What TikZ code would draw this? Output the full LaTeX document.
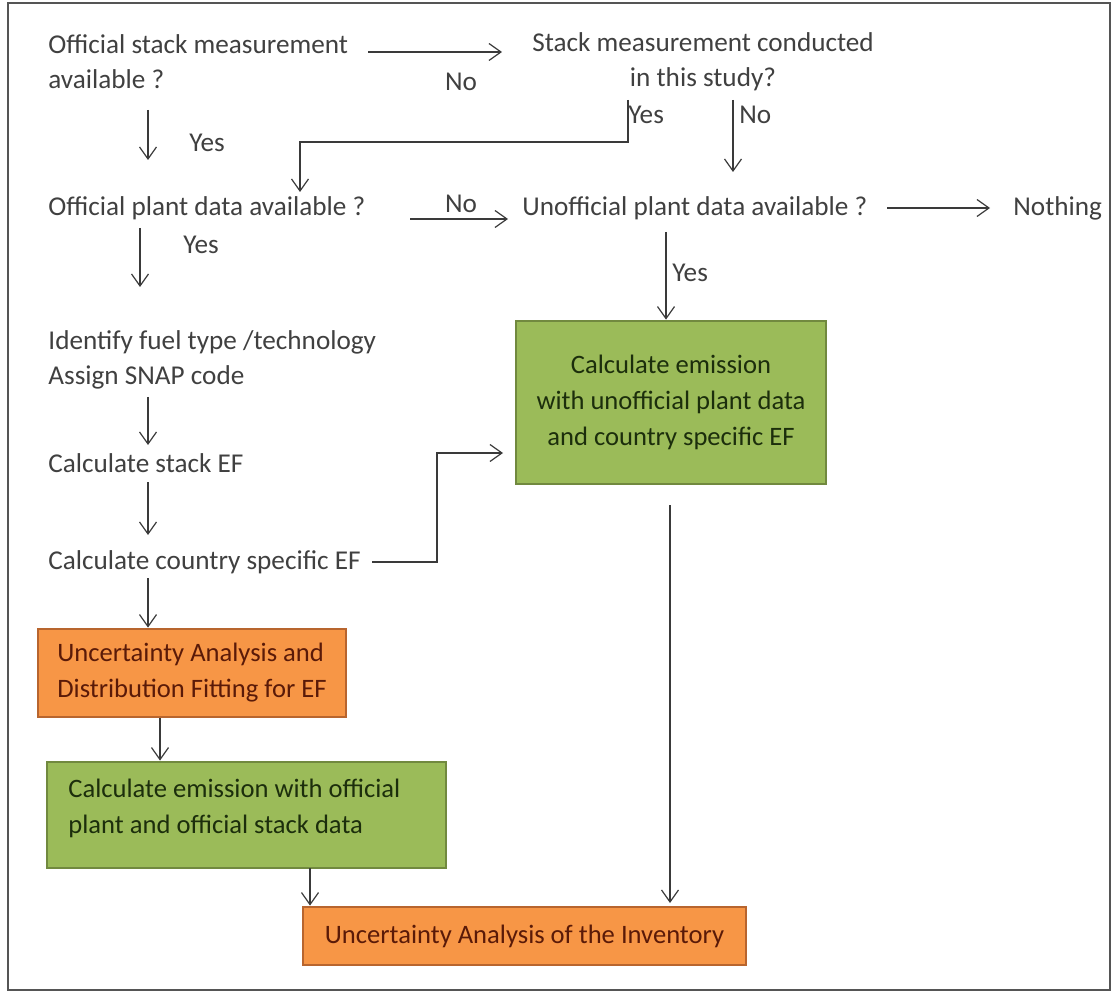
\documentclass[tikz,border=0pt]{standalone}
\usepackage{fontspec}
\setmainfont{Carlito}
\usetikzlibrary{arrows.meta}
\definecolor{txt}{HTML}{404040}
\definecolor{linec}{HTML}{3A3A3A}
\definecolor{framec}{HTML}{555555}
\definecolor{gfill}{HTML}{9BBB59}
\definecolor{gdraw}{HTML}{71893F}
\definecolor{gtxt}{HTML}{1C2E0C}
\definecolor{ofill}{HTML}{F79646}
\definecolor{odraw}{HTML}{B8652E}
\definecolor{otxt}{HTML}{5A1A08}
\begin{document}
\begin{tikzpicture}[x=0.5pt,y=-0.5pt,
  font=\fontsize{13.6}{17.5}\selectfont,
  boxfont/.style={font=\fontsize{13.3}{18}\selectfont},
  plain/.style={inner sep=0pt, text=txt, anchor=west, align=left},
  lbl/.style={inner sep=0pt, text=txt},
  gbox/.style={fill=gfill, draw=gdraw, line width=1.4pt, text=gtxt, inner sep=0pt, boxfont},
  obox/.style={fill=ofill, draw=odraw, line width=1.4pt, text=otxt, inner sep=0pt, boxfont},
  arr/.style={draw=linec, line width=0.6pt, -{Straight Barb[length=6pt,width=8.5pt]}},
  ln/.style={draw=linec, line width=0.6pt}]
\useasboundingbox (0,0) rectangle (1113,994);
\draw[framec, line width=0.9pt] (8,3) rectangle (1110,990);

% question / step texts
\node[plain] (q1) at (48,62) {Official stack measurement\\available ?};
\node[lbl, align=center] (q2) at (703,62) {Stack measurement conducted\\in this study?};
\node[plain] (q3) at (48,208) {Official plant data available ?};
\node[plain] (q4) at (522,208) {Unofficial plant data available ?};
\node[plain] (nothing) at (1013,208) {Nothing};
\node[plain] (s1) at (48,360) {Identify fuel type /technology\\Assign SNAP code};
\node[plain] (s2) at (48,463) {Calculate stack EF};
\node[plain] (s3) at (48,562) {Calculate country specific EF};

% boxes
\node[gbox, minimum width=155pt, minimum height=81.5pt, align=center] (g1) at (671,402.5)
  {Calculate emission\\with unofficial plant data\\and country specific EF};
\node[obox, minimum width=154pt, minimum height=44pt, align=left] (o1) at (192,673)
  {Uncertainty Analysis and\\Distribution Fitting for EF};
\node[gbox, minimum width=199.5pt, minimum height=53pt] (g2) at (246.5,815) {};
\node[inner sep=0pt, text=gtxt, anchor=west, align=left, boxfont] (g2t) at (68,808.5)
  {Calculate emission with official\\plant and official stack data};
\node[obox, minimum width=221.5pt, minimum height=29pt] (o2) at (524.5,936)
  {Uncertainty Analysis of the Inventory};

% connector end points
\coordinate (a1s) at (368,52);  \coordinate (a1e) at (502,52);
\coordinate (a2s) at (148,110); \coordinate (a2e) at (148,160);
\coordinate (a3s) at (628,100); \coordinate (a3c) at (628,142);
\coordinate (a3d) at (300,142); \coordinate (a3e) at (300,192);
\coordinate (a4s) at (733,100); \coordinate (a4e) at (733,172);
\coordinate (a5s) at (410,219); \coordinate (a5e) at (508,219);
\coordinate (a6s) at (140,228); \coordinate (a6e) at (140,287);
\coordinate (a7s) at (887,208); \coordinate (a7e) at (990,208);
\coordinate (a8s) at (666,232);
\coordinate (a9s) at (148,397); \coordinate (a9e) at (148,445);
\coordinate (a10s) at (148,482); \coordinate (a10e) at (148,535);
\coordinate (a11s) at (372,562); \coordinate (a11c) at (437,453); \coordinate (a11e) at (503,453);
\coordinate (a12s) at (670,505); \coordinate (a12e) at (670,903);
\coordinate (a13s) at (148,578);
\coordinate (a14s) at (160,718);
\coordinate (a15s) at (310,868);

% connectors
\draw[arr] (a1s) -- (a1e);
\node[lbl] (n1) at (461,82) {No};
\draw[arr] (a2s) -- (a2e);
\node[lbl] (y1) at (207,143) {Yes};
\draw[arr] (a3s) -- (a3c) -- (a3d) -- (a3e);
\node[lbl, anchor=west] (y2) at (628,115) {Yes};
\draw[arr] (a4s) -- (a4e);
\node[lbl, anchor=west] (n2) at (739,115) {No};
\draw[arr] (a5s) -- (a5e);
\node[lbl] (n3) at (461,204) {No};
\draw[arr] (a6s) -- (a6e);
\node[lbl] (y3) at (201,245) {Yes};
\draw[arr] (a7s) -- (a7e);
\draw[arr] (a8s) -- (a8s |- g1.north);
\node[lbl, anchor=west] (y4) at (672,273) {Yes};
\draw[arr] (a9s) -- (a9e);
\draw[arr] (a10s) -- (a10e);
\draw[arr] (a11s) -| (a11c) -- (a11e);
\draw[arr] (a12s) -- (a12e);
\draw[arr] (a13s) -- (a13s |- o1.north);
\draw[arr] (a14s) -- (a14s |- g2.north);
\draw[arr] (a15s) -- (a15s |- o2.north);
\end{tikzpicture}
\end{document}
